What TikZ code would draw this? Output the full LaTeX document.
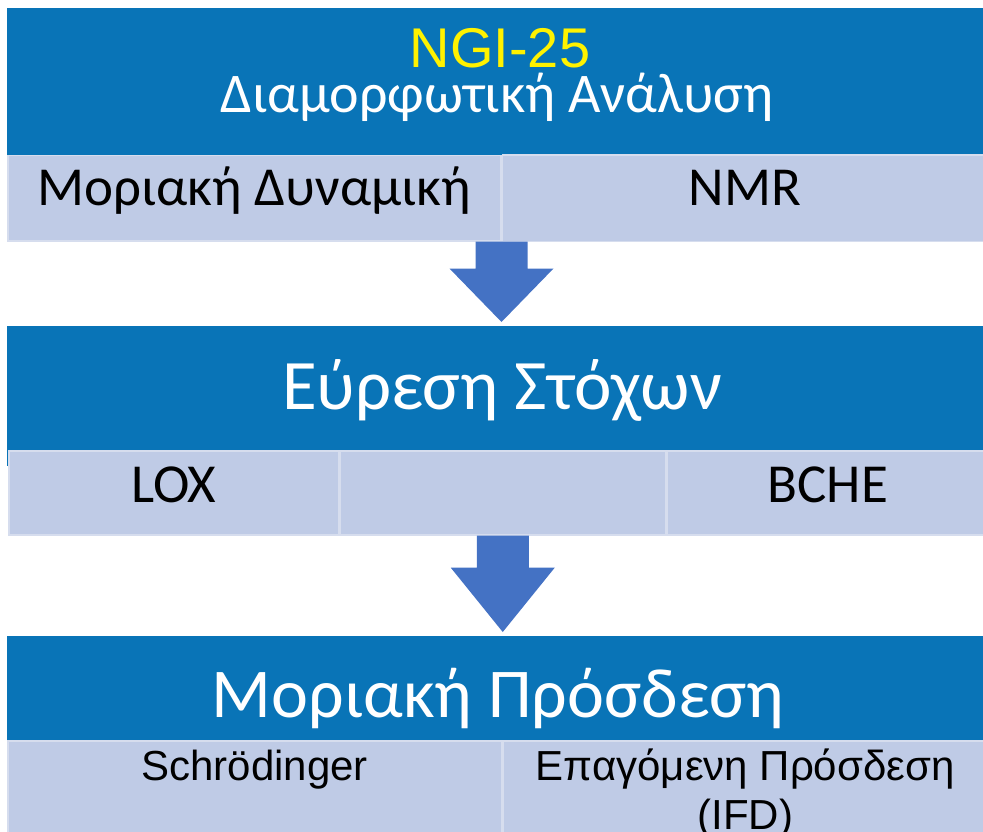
\documentclass[tikz,border=0pt]{standalone}
\usepackage{fontspec}
\setmainfont{Carlito}
\newfontfamily\arialfont{Liberation Sans}
\usetikzlibrary{calc, positioning}
\definecolor{headblue}{RGB}{9,116,183}
\definecolor{cellblue}{RGB}{191,203,230}
\definecolor{celledge}{RGB}{214,221,238}
\definecolor{arrowblue}{RGB}{68,114,196}
% block arrow from the bottom of a row down to the next header
\newcommand{\stepdown}[2]{%
	\fill[arrowblue] let \p1=(#1), \p2=($(#1)!0.32!(#1|-#2)$), \p3=(#1|-#2) in
		(\x1-26pt,\y1) -- (\x1+26pt,\y1) -- (\x1+26pt,\y2) -- (\x1+52pt,\y2)
		-- (\x1,\y3+4pt) -- (\x1-52pt,\y2) -- (\x1-26pt,\y2) -- cycle;}

\begin{document}
\begin{tikzpicture}[x=1pt, y=-1pt]
	\useasboundingbox (0,0) rectangle (983,832);

	% header bars run on behind the rows of boxes
	\begin{scope}[every node/.style={fill=headblue, minimum width=978pt, anchor=north west, inner sep=0pt}]
	\node[minimum height=160pt] (hdA) at (7,8)   {};
	\node[minimum height=140pt] (hdB) at (7,326) {};
	\node[minimum height=130pt] (hdC) at (7,636) {};
	\end{scope}

	\begin{scope}[every node/.style={text=white, anchor=base, inner sep=0pt}]
	\node[text=yellow, font=\arialfont\fontsize{56}{60}\selectfont] (ngi)  at (500,68)  {NGI-25};
	\node[font=\fontsize{56}{60}\selectfont]                        (conf) at (497,113) {Διαμορφωτική Ανάλυση};
	\node[font=\fontsize{71}{80}\selectfont]                        (find) at (502,409) {Εύρεση Στόχων};
	\node[font=\fontsize{70}{80}\selectfont]                        (bind) at (498,717) {Μοριακή Πρόσδεση};
	\end{scope}

	\begin{scope}[every node/.style={fill=cellblue, draw=celledge, line width=1.5pt, inner sep=0pt,
	              font=\fontsize{55}{60}\selectfont, text height=36pt, text depth=22pt}]
	\node[minimum width=493pt, minimum height=85pt, anchor=north west] (md) at (7,155) {Μοριακή Δυναμική};
	\node[minimum width=485pt, minimum height=86pt, right=0pt of md]   (nmr) {NMR};
	\node[minimum width=330pt, minimum height=84pt, anchor=north west, text height=39pt, text depth=19pt] (lox) at (8,450) {LOX};
	\node[minimum width=325pt, minimum height=84pt, right=0pt of lox]  (mid) {};
	\node[minimum width=322pt, minimum height=84pt, right=0pt of mid, text height=39pt, text depth=19pt]  (bche) {BCHE};
	\end{scope}

	\begin{scope}[every node/.style={fill=cellblue, draw=celledge, line width=1.5pt, inner sep=0pt, align=center,
	              font=\arialfont\fontsize{42}{49}\selectfont, text height=30pt, text depth=42pt}]
	\node[minimum width=494pt, minimum height=92pt, anchor=north west] (sch) at (7,740) {Schrödinger};
	\node[minimum width=484pt, minimum height=92pt, right=0pt of sch, text height=88pt, text depth=2pt] (ifd) {Επαγόμενη Πρόσδεση\\(IFD)};
	\end{scope}

	\stepdown{md.south east}{hdB.north}
	\stepdown{mid.south}{hdC.north}

\end{tikzpicture}
\end{document}
